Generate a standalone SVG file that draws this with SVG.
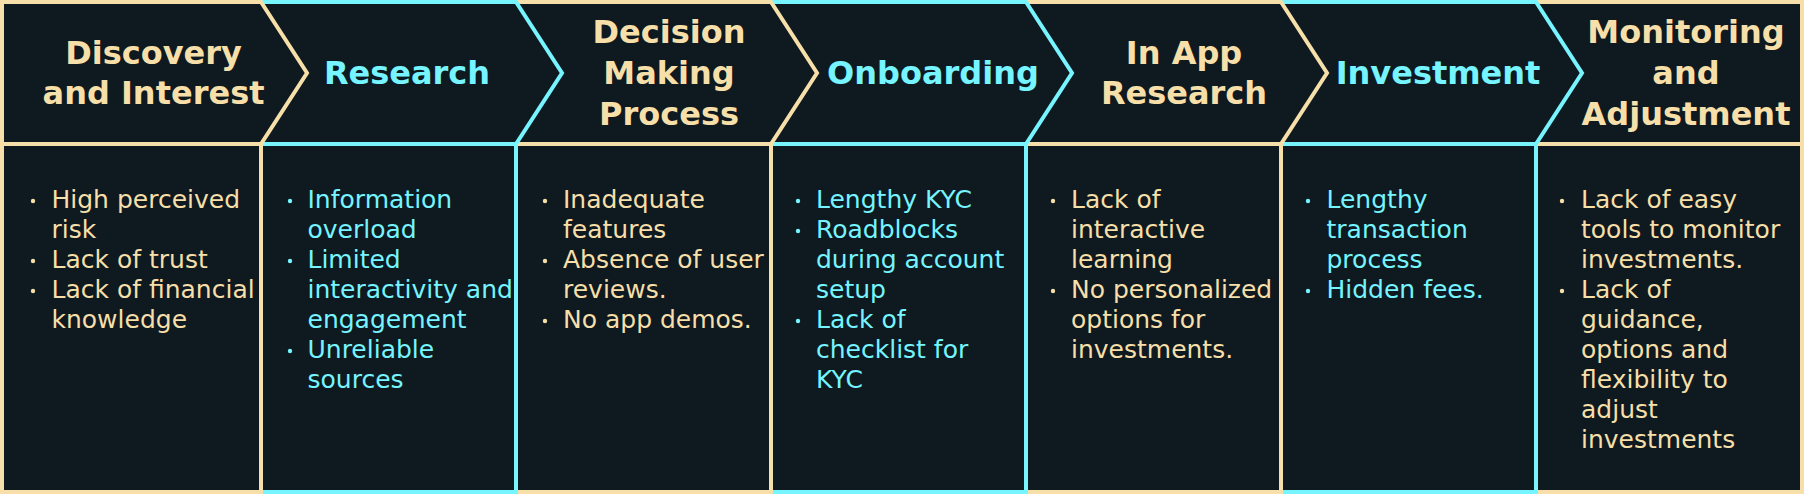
<svg xmlns="http://www.w3.org/2000/svg" width="1804" height="494" viewBox="0 0 1804 494">
<style>
.bg{fill:#0E1A1F}
.sb{fill:none;stroke:#F6DFA9;stroke-width:4;stroke-linejoin:miter}
.sc{fill:none;stroke:#76F4FF;stroke-width:4;stroke-linejoin:miter}
.h{font-family:"DejaVu Sans",sans-serif;font-weight:bold;font-size:32px;text-anchor:middle}
.t{font-family:"DejaVu Sans",sans-serif;font-size:25px}
.fb{fill:#F6DFA9}
.fc{fill:#76F4FF}
</style>
<rect class="bg" x="0" y="0" width="1804" height="494"/>

<g id="col-7">
<path class="sb" d="M1536,2 H1802 V144 H1536"/>
<path class="sb" d="M1536,144 H1802 V492 H1536"/>
<text class="h fb" x="1686"><tspan x="1686" y="43">Monitoring</tspan><tspan x="1686" y="84">and</tspan><tspan x="1686" y="125">Adjustment</tspan></text>
<g class="fb"><circle cx="1562" cy="201" r="2.2"/><circle cx="1562" cy="291" r="2.2"/></g>
<text class="t fb"><tspan x="1581" y="207.5">Lack of easy</tspan><tspan x="1581" y="237.5">tools to monitor</tspan><tspan x="1581" y="267.5">investments.</tspan><tspan x="1581" y="297.5">Lack of</tspan><tspan x="1581" y="327.5">guidance,</tspan><tspan x="1581" y="357.5">options and</tspan><tspan x="1581" y="387.5">flexibility to</tspan><tspan x="1581" y="417.5">adjust</tspan><tspan x="1581" y="447.5">investments</tspan></text>
</g>

<g id="col-6">
<path class="sc" d="M1281,2 H1536 L1582,73 L1536,144 H1281"/>
<path class="sc" d="M1281,144 H1536 V492 H1281"/>
<text class="h fc" x="1438" y="84">Investment</text>
<g class="fc"><circle cx="1308" cy="201" r="2.2"/><circle cx="1308" cy="291" r="2.2"/></g>
<text class="t fc"><tspan x="1326.5" y="207.5">Lengthy</tspan><tspan x="1326.5" y="237.5">transaction</tspan><tspan x="1326.5" y="267.5">process</tspan><tspan x="1326.5" y="297.5">Hidden fees.</tspan></text>
</g>

<g id="col-5">
<path class="sb" d="M1026,2 H1281 L1327,73 L1281,144 H1026"/>
<path class="sb" d="M1026,144 H1281 V492 H1026"/>
<text class="h fb"><tspan x="1184" y="64">In App</tspan><tspan x="1184" y="104">Research</tspan></text>
<g class="fb"><circle cx="1053" cy="201" r="2.2"/><circle cx="1053" cy="291" r="2.2"/></g>
<text class="t fb"><tspan x="1071" y="207.5">Lack of</tspan><tspan x="1071" y="237.5">interactive</tspan><tspan x="1071" y="267.5">learning</tspan><tspan x="1071" y="297.5">No personalized</tspan><tspan x="1071" y="327.5">options for</tspan><tspan x="1071" y="357.5">investments.</tspan></text>
</g>

<g id="col-4">
<path class="sc" d="M771,2 H1026 L1072,73 L1026,144 H771"/>
<path class="sc" d="M771,144 H1026 V492 H771"/>
<text class="h fc" x="933" y="84">Onboarding</text>
<g class="fc"><circle cx="798" cy="201" r="2.2"/><circle cx="798" cy="231" r="2.2"/><circle cx="798" cy="321" r="2.2"/></g>
<text class="t fc"><tspan x="816" y="207.5">Lengthy KYC</tspan><tspan x="816" y="237.5">Roadblocks</tspan><tspan x="816" y="267.5">during account</tspan><tspan x="816" y="297.5">setup</tspan><tspan x="816" y="327.5">Lack of</tspan><tspan x="816" y="357.5">checklist for</tspan><tspan x="816" y="387.5">KYC</tspan></text>
</g>

<g id="col-3">
<path class="sb" d="M516,2 H771 L817,73 L771,144 H516"/>
<path class="sb" d="M516,144 H771 V492 H516"/>
<text class="h fb"><tspan x="669" y="43">Decision</tspan><tspan x="669" y="84">Making</tspan><tspan x="669" y="125">Process</tspan></text>
<g class="fb"><circle cx="545" cy="201" r="2.2"/><circle cx="545" cy="261" r="2.2"/><circle cx="545" cy="321" r="2.2"/></g>
<text class="t fb"><tspan x="563" y="207.5">Inadequate</tspan><tspan x="563" y="237.5">features</tspan><tspan x="563" y="267.5">Absence of user</tspan><tspan x="563" y="297.5">reviews.</tspan><tspan x="563" y="327.5">No app demos.</tspan></text>
</g>

<g id="col-2">
<path class="sc" d="M261,2 H516 L562,73 L516,144 H261"/>
<path class="sc" d="M261,144 H516 V492 H261"/>
<text class="h fc" x="407" y="84">Research</text>
<g class="fc"><circle cx="290" cy="201" r="2.2"/><circle cx="290" cy="261" r="2.2"/><circle cx="290" cy="351" r="2.2"/></g>
<text class="t fc"><tspan x="307.5" y="207.5">Information</tspan><tspan x="307.5" y="237.5">overload</tspan><tspan x="307.5" y="267.5">Limited</tspan><tspan x="307.5" y="297.5">interactivity and</tspan><tspan x="307.5" y="327.5">engagement</tspan><tspan x="307.5" y="357.5">Unreliable</tspan><tspan x="307.5" y="387.5">sources</tspan></text>
</g>

<g id="col-1">
<path class="sb" d="M2,144 V2 H261 L307,73 L261,144 Z"/>
<path class="sb" d="M2,144 V492 H261 V144"/>
<text class="h fb"><tspan x="153.5" y="64">Discovery</tspan><tspan x="153.5" y="104">and Interest</tspan></text>
<g class="fb"><circle cx="33" cy="201" r="2.2"/><circle cx="33" cy="261" r="2.2"/><circle cx="33" cy="291" r="2.2"/></g>
<text class="t fb"><tspan x="51.5" y="207.5">High perceived</tspan><tspan x="51.5" y="237.5">risk</tspan><tspan x="51.5" y="267.5">Lack of trust</tspan><tspan x="51.5" y="297.5">Lack of financial</tspan><tspan x="51.5" y="327.5">knowledge</tspan></text>
</g>
</svg>
